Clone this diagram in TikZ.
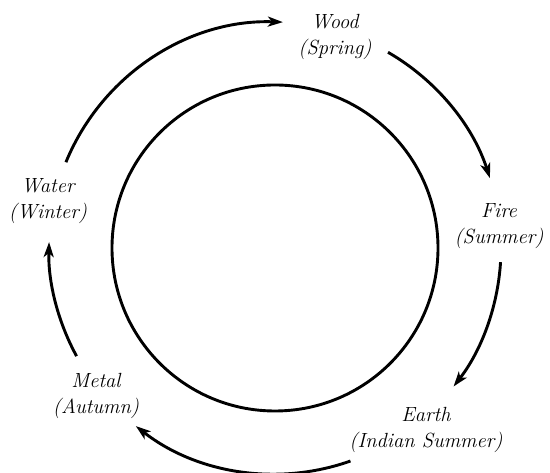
\documentclass[tikz,border=0pt]{standalone}
\usetikzlibrary{arrows.meta,calc}
\begin{document}
\begin{tikzpicture}[x=1pt,y=1pt,
  lbl/.style={font=\fontsize{20.5}{26.5}\selectfont\itshape, align=center, inner sep=0pt},
  arc/.style={line width=2.9pt, -{Stealth[length=15pt,width=10pt,inset=4pt]}},
  ring/.style={line width=2.9pt}]
\useasboundingbox (0,0) rectangle (550,473);
\coordinate (c) at (275,225);
\node[ring, draw, circle, minimum size=326pt, inner sep=0pt] (inner) at (c) {};
\node[lbl] (wood) at (335,436) {Wood\\(Spring)};
\node[lbl] (fire) at (499,247) {Fire\\(Summer)};
\node[lbl] (earth) at (426,43) {Earth\\(Indian Summer)};
\node[lbl] (metal) at (96,77) {Metal\\(Autumn)};
\node[lbl] (water) at (48,272) {Water\\(Winter)};
\coordinate (s1) at ($(c)+(157.7:226)$);
\coordinate (s2) at ($(c)+(60:226)$);
\coordinate (s3) at ($(c)+(-3.6:226)$);
\coordinate (s4) at ($(c)+(-70.5:226)$);
\coordinate (s5) at ($(c)+(208.6:226)$);
\draw[arc] (s1) arc[start angle=157.7, end angle=88, radius=226];
\draw[arc] (s2) arc[start angle=60, end angle=18, radius=226];
\draw[arc] (s3) arc[start angle=-3.6, end angle=-37.8, radius=226];
\draw[arc] (s4) arc[start angle=-70.5, end angle=-128, radius=226];
\draw[arc] (s5) arc[start angle=208.6, end angle=178.5, radius=226];
\end{tikzpicture}
\end{document}
